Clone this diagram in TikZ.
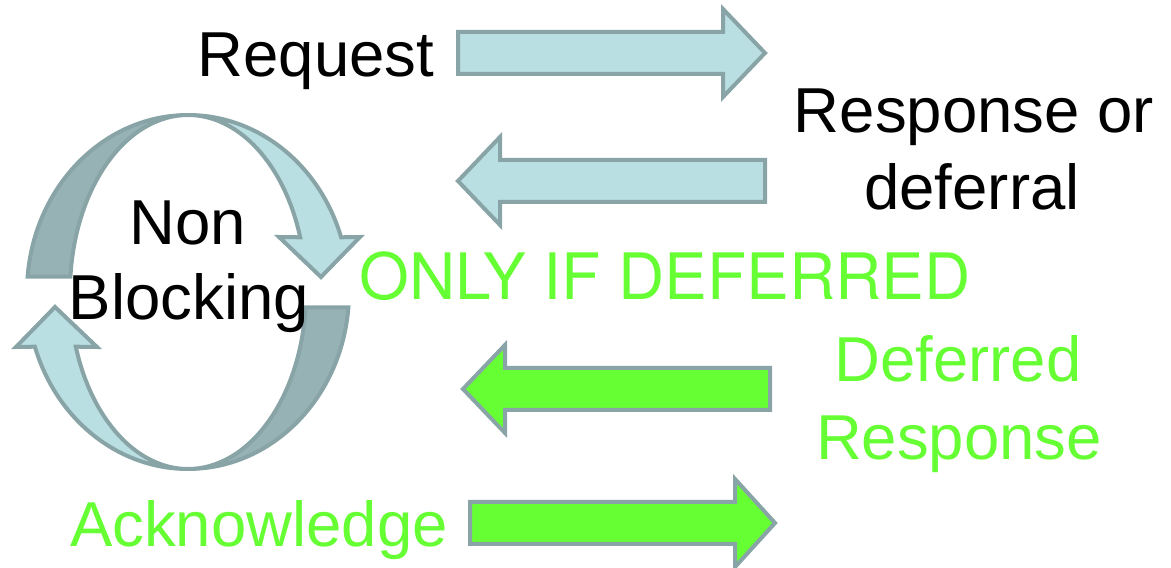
\documentclass[tikz,border=0pt]{standalone}
\usepackage{fontspec}
\setmainfont{Liberation Sans}
\newfontfamily\herosfont{TeX Gyre Heros}
\definecolor{rimgray}{RGB}{137,164,166}
\definecolor{paleblue}{RGB}{185,223,226}
\definecolor{backgray}{RGB}{150,178,180}
\definecolor{brightgreen}{RGB}{102,255,51}
\def\blockarrow[#1](#2,#3,#4,#5){\draw[#1] (#2,#5-21) -- (#3,#5-21) -- (#3,#5-44) -- (#4,#5) -- (#3,#5+44) -- (#3,#5+21) -- (#2,#5+21) -- cycle;}
\tikzset{
  bluebox/.style={draw=rimgray, fill=paleblue, line width=4pt},
  greenbox/.style={draw=rimgray, fill=brightgreen, line width=4pt},
  backbox/.style={draw=rimgray, fill=backgray, line width=4pt},
  bigtext/.style={inner sep=0pt, anchor=base, font=\fontsize{63.5}{63.5}\selectfont},
}

\begin{document}
\begin{tikzpicture}[x=1pt, y=1pt]
			%%%%% START %%%%%
			\useasboundingbox (0, 0) rectangle (1171, 568);
			
			\coordinate (hub) at (188, 276);
			
			% upper turning arrow
			\draw[backbox] (27.6, 291.4) arc[start angle=175, end angle=90, x radius=161, y radius=177] arc[start angle=90, end angle=175, x radius=118, y radius=177] -- cycle;
			\draw[bluebox] (188, 453) arc[start angle=90, end angle=18, x radius=161, y radius=177] -- (360, 331) -- (321, 291) -- (279, 331) -- (300.2, 330.7) arc[start angle=18, end angle=90, x radius=118, y radius=177] -- cycle;
			
			% lower turning arrow
			\begin{scope}[rotate around={180:(hub)}]
				\draw[backbox] (27.6, 291.4) arc[start angle=175, end angle=90, x radius=161, y radius=177] arc[start angle=90, end angle=175, x radius=118, y radius=177] -- cycle;
				\draw[bluebox] (188, 453) arc[start angle=90, end angle=18, x radius=161, y radius=177] -- (360, 331) -- (321, 291) -- (279, 331) -- (300.2, 330.7) arc[start angle=18, end angle=90, x radius=118, y radius=177] -- cycle;
			\end{scope}
			
			% block arrows
			\blockarrow[bluebox](458, 723, 765, 515);
			\blockarrow[bluebox](765, 500, 458, 387);
			\blockarrow[greenbox](770, 505, 463, 179);
			\blockarrow[greenbox](470, 735, 775, 45);
			
			% texts
			\node[bigtext] (request) at (316, 491) {Request};
			\node[bigtext] (respline) at (974, 435) {Response or};
			\node[bigtext] (deferline) at (972, 358) {deferral};
			\node[bigtext] (nonline) at (188, 323) {Non};
			\node[bigtext] (blockline) at (189, 248) {Blocking};
			\node[bigtext, text=brightgreen, font=\herosfont\fontsize{64}{64}\selectfont] (onlyif) at (665, 268) {ONLY IF DEFERRED};
			\node[bigtext, text=brightgreen] (deferredline) at (958, 186) {Deferred};
			\node[bigtext, text=brightgreen] (responseline) at (959, 108) {Response};
			\node[bigtext, text=brightgreen] (ack) at (259, 21) {Acknowledge};
			
			%%%%% END %%%%%
\end{tikzpicture}
\end{document}
